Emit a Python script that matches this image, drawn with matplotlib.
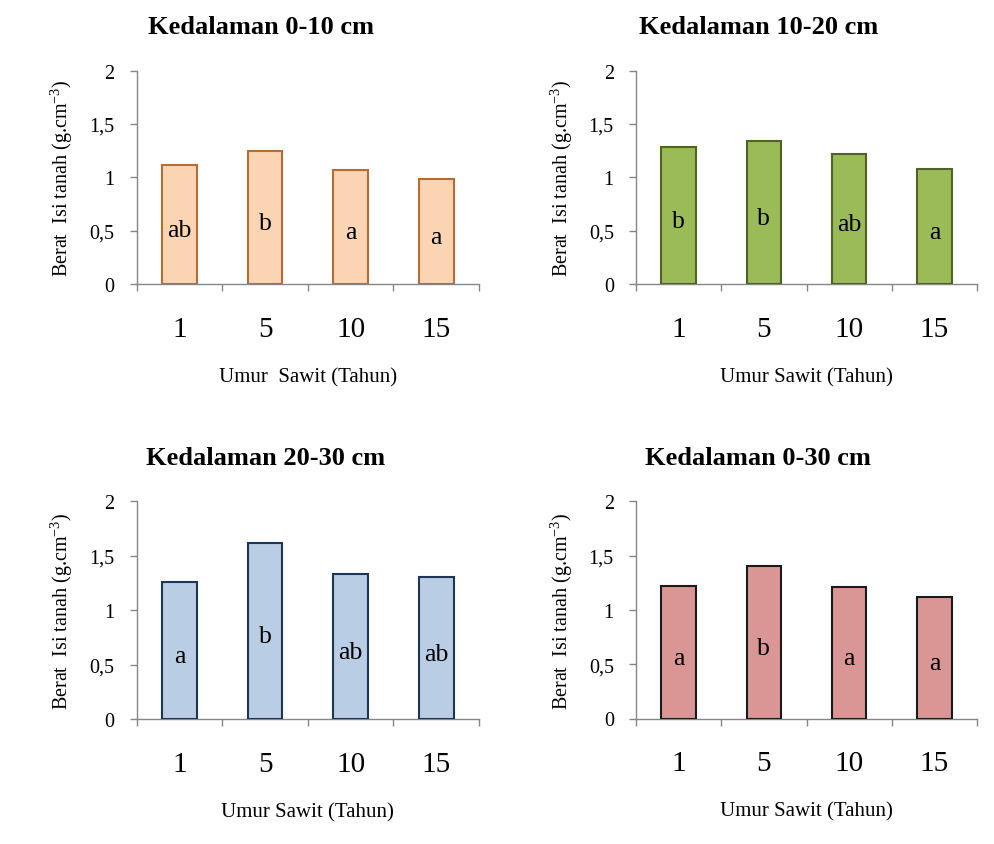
import matplotlib
matplotlib.use("Agg")
import matplotlib.pyplot as plt
from matplotlib.ticker import FixedLocator

plt.rcParams['font.family'] = ['Liberation Serif', 'DejaVu Serif']
plt.rcParams['mathtext.fontset'] = 'custom'
plt.rcParams['mathtext.rm'] = 'Liberation Serif'
plt.rcParams['mathtext.it'] = 'Liberation Serif:italic'
plt.rcParams['mathtext.bf'] = 'Liberation Serif:bold'

categories = ['1', '5', '10', '15']
titles = ['Kedalaman 0-10 cm', 'Kedalaman 10-20 cm', 'Kedalaman 20-30 cm', 'Kedalaman 0-30 cm']
values_0_10 = [1.12, 1.25, 1.07, 0.98]
values_10_20 = [1.28, 1.34, 1.22, 1.08]
values_20_30 = [1.26, 1.62, 1.33, 1.30]
values_0_30 = [1.22, 1.40, 1.21, 1.12]
letters_0_10 = ['ab', 'b', 'a', 'a']
letters_10_20 = ['b', 'b', 'ab', 'a']
letters_20_30 = ['a', 'b', 'ab', 'ab']
letters_0_30 = ['a', 'b', 'a', 'a']
xlabels = ['Umur  Sawit (Tahun)', 'Umur Sawit (Tahun)', 'Umur Sawit (Tahun)', 'Umur Sawit (Tahun)']
yticks = [0, 0.5, 1, 1.5, 2]
yticklabels = ['0', '0,5', '1', '1,5', '2']
ylabel = 'Berat  Isi tanah (g.cm$^{\\mathrm{-3}}$)'

fills = ['#FBD4B4', '#9BBB59', '#B9CDE5', '#D99694']
edges = ['#B66D31', '#4F6228', '#1F3556', '#1A1A1A']

W, H = 994, 845
fig = plt.figure(figsize=(W / 100, H / 100), dpi=100)

# axes boxes in pixels: left, top, right, bottom
boxes = [
    (136.7, 71.7, 479.0, 285.0),
    (636.0, 71.7, 977.0, 285.0),
    (136.7, 502.3, 479.0, 720.0),
    (636.0, 502.3, 977.0, 719.5),
]
title_x = [0.363, 0.36, 0.375, 0.357]
all_vals = [values_0_10, values_10_20, values_20_30, values_0_30]
all_letters = [letters_0_10, letters_10_20, letters_20_30, letters_0_30]
spine_col = '#868686'

for i in range(4):
    l, t, r, b = boxes[i]
    ax = fig.add_axes([l / W, 1 - b / H, (r - l) / W, (b - t) / H])
    x = list(range(len(categories)))
    vals = all_vals[i]
    ax.bar(x, vals, width=0.405, color=fills[i], edgecolor=edges[i], linewidth=1.5, zorder=3)
    for xi, v, lab in zip(x, vals, all_letters[i]):
        ax.text(xi, v / 2 - 0.05, lab, ha='center', va='center', fontsize=18.5, zorder=4)
    ax.set_xlim(-0.5, len(categories) - 0.5)
    ax.set_ylim(0, 2)
    ax.set_yticks(yticks)
    ax.set_yticklabels(yticklabels, fontsize=14.5)
    ax.set_xticks(x)
    ax.set_xticklabels(categories, fontsize=21)
    ax.xaxis.set_minor_locator(FixedLocator([k - 0.5 for k in range(len(categories) + 1)]))
    ax.tick_params(axis='x', which='major', length=0, pad=23)
    ax.tick_params(axis='x', which='minor', length=5, width=1, color=spine_col, direction='out')
    ax.tick_params(axis='y', which='major', length=5, width=1, color=spine_col, direction='out', pad=11)
    for s in ['top', 'right']:
        ax.spines[s].set_visible(False)
    for s in ['left', 'bottom']:
        ax.spines[s].set_color(spine_col)
        ax.spines[s].set_linewidth(1)
    ax.set_ylabel(ylabel, fontsize=14.5, labelpad=10)
    ax.set_xlabel(xlabels[i], fontsize=15, labelpad=18)
    ax.set_title(titles[i], fontsize=19, fontweight='bold', pad=27, x=title_x[i])

fig.savefig('out.png', dpi=100)
